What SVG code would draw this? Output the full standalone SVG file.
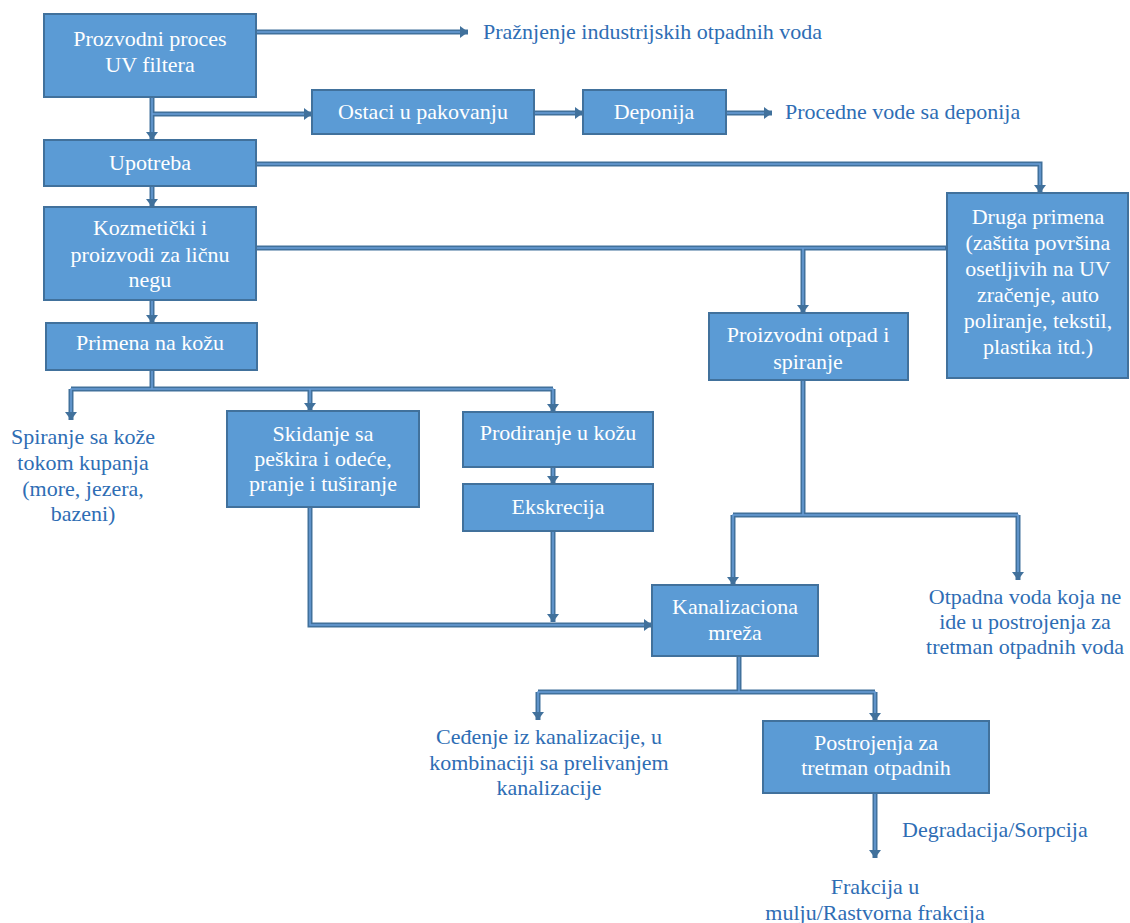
<svg xmlns="http://www.w3.org/2000/svg" width="1130" height="923" viewBox="0 0 1130 923">
  <style>
    .box { fill: #5b9bd5; stroke: #41719c; stroke-width: 2; }
    text { font-family: "Liberation Serif", "DejaVu Serif", serif; font-size: 22px; }
    .in { fill: #ffffff; text-anchor: middle; }
    .out { fill: #2e6db4; text-anchor: middle; }
    .start { text-anchor: start; }
    .c { fill: none; stroke: #41719c; stroke-width: 5; stroke-linejoin: miter; }
    .ci { fill: none; stroke: #6a9fd8; stroke-width: 1.5; stroke-linejoin: miter; }
  </style>
  <defs>
    <marker id="ah" viewBox="0 0 8 12" markerWidth="8" markerHeight="12" refX="8" refY="6" orient="auto" markerUnits="userSpaceOnUse">
      <path d="M0,0 L8,6 L0,12 z" fill="#41719c"/>
    </marker>
  </defs>
  <rect width="1130" height="923" fill="#ffffff"/>

  <!-- connectors: dark outer stroke with a light core -->
  <g id="connectors">
    <path class="c" marker-end="url(#ah)" d="M256,32 H468"/>
    <path class="c" marker-end="url(#ah)" d="M152,97 V140"/>
    <path class="c" marker-end="url(#ah)" d="M152,114 H312"/>
    <path class="c" marker-end="url(#ah)" d="M534,113 H583"/>
    <path class="c" marker-end="url(#ah)" d="M726,113 H772"/>
    <path class="c" marker-end="url(#ah)" d="M152,186 V207"/>
    <path class="c" marker-end="url(#ah)" d="M256,164 H1040 V193"/>
    <path class="c" d="M256,248 H947"/>
    <path class="c" marker-end="url(#ah)" d="M803,248 V313"/>
    <path class="c" marker-end="url(#ah)" d="M152,300 V323"/>
    <path class="c" d="M152,370 V389"/>
    <path class="c" d="M71,389 H553"/>
    <path class="c" marker-end="url(#ah)" d="M71,389 V420"/>
    <path class="c" marker-end="url(#ah)" d="M310,389 V411"/>
    <path class="c" marker-end="url(#ah)" d="M553,389 V412"/>
    <path class="c" marker-end="url(#ah)" d="M553,467 V484"/>
    <path class="c" marker-end="url(#ah)" d="M310,507 V625 H652"/>
    <path class="c" marker-end="url(#ah)" d="M553,531 V622"/>
    <path class="c" d="M803,380 V515"/>
    <path class="c" d="M733,515 H1018"/>
    <path class="c" marker-end="url(#ah)" d="M733,515 V585"/>
    <path class="c" marker-end="url(#ah)" d="M1018,515 V580"/>
    <path class="c" d="M739,656 V692"/>
    <path class="c" d="M538,692 H875"/>
    <path class="c" marker-end="url(#ah)" d="M538,692 V720"/>
    <path class="c" marker-end="url(#ah)" d="M875,692 V721"/>
    <path class="c" marker-end="url(#ah)" d="M875,793 V858"/>

    <path class="ci" d="M256,32 H460"/>
    <path class="ci" d="M152,97 V132"/>
    <path class="ci" d="M152,114 H304"/>
    <path class="ci" d="M534,113 H575"/>
    <path class="ci" d="M726,113 H764"/>
    <path class="ci" d="M152,186 V199"/>
    <path class="ci" d="M256,164 H1040 V185"/>
    <path class="ci" d="M256,248 H945"/>
    <path class="ci" d="M803,248 V305"/>
    <path class="ci" d="M152,300 V315"/>
    <path class="ci" d="M152,370 V389"/>
    <path class="ci" d="M71,412 V389 H553 V404"/>
    <path class="ci" d="M310,389 V403"/>
    <path class="ci" d="M553,467 V476"/>
    <path class="ci" d="M310,507 V625 H644"/>
    <path class="ci" d="M553,531 V614"/>
    <path class="ci" d="M803,380 V515"/>
    <path class="ci" d="M733,577 V515 H1018 V572"/>
    <path class="ci" d="M739,656 V692"/>
    <path class="ci" d="M538,712 V692 H875 V713"/>
    <path class="ci" d="M875,793 V850"/>
    <rect x="947" y="243" width="5" height="10" fill="#0b93e6"/>
  </g>

  <g id="n-proizvodni-proces">
    <rect class="box" x="44" y="14" width="212" height="83"/>
    <text class="in" x="150" y="46">Prozvodni proces</text>
    <text class="in" x="150" y="72">UV filtera</text>
  </g>
  <g id="n-praznjenje">
    <text class="out start" x="483" y="39">Pražnjenje industrijskih otpadnih voda</text>
  </g>
  <g id="n-ostaci">
    <rect class="box" x="312" y="90" width="222" height="44"/>
    <text class="in" x="423" y="119">Ostaci u pakovanju</text>
  </g>
  <g id="n-deponija">
    <rect class="box" x="583" y="90" width="143" height="44"/>
    <text class="in" x="654" y="119">Deponija</text>
  </g>
  <g id="n-procedne">
    <text class="out start" x="785" y="119">Procedne vode sa deponija</text>
  </g>
  <g id="n-upotreba">
    <rect class="box" x="44" y="140" width="212" height="46"/>
    <text class="in" x="150" y="170">Upotreba</text>
  </g>
  <g id="n-kozmeticki">
    <rect class="box" x="44" y="207" width="212" height="93"/>
    <text class="in" x="150" y="235">Kozmetički i</text>
    <text class="in" x="150" y="262">proizvodi za ličnu</text>
    <text class="in" x="150" y="287">negu</text>
  </g>
  <g id="n-druga-primena">
    <rect class="box" x="947" y="193" width="181" height="185"/>
    <text class="in" x="1038" y="224">Druga primena</text>
    <text class="in" x="1038" y="250">(zaštita površina</text>
    <text class="in" x="1038" y="276">osetljivih na UV</text>
    <text class="in" x="1038" y="302">zračenje, auto</text>
    <text class="in" x="1038" y="328">poliranje, tekstil,</text>
    <text class="in" x="1038" y="354">plastika itd.)</text>
  </g>
  <g id="n-primena">
    <rect class="box" x="46" y="323" width="211" height="47"/>
    <text class="in" x="150" y="350">Primena na kožu</text>
  </g>
  <g id="n-proizvodni-otpad">
    <rect class="box" x="709" y="313" width="199" height="67"/>
    <text class="in" x="808" y="342">Proizvodni otpad i</text>
    <text class="in" x="808" y="369">spiranje</text>
  </g>
  <g id="n-spiranje">
    <text class="out" x="83" y="444">Spiranje sa kože</text>
    <text class="out" x="83" y="470">tokom kupanja</text>
    <text class="out" x="83" y="496">(more, jezera,</text>
    <text class="out" x="83" y="521">bazeni)</text>
  </g>
  <g id="n-skidanje">
    <rect class="box" x="227" y="411" width="192" height="96"/>
    <text class="in" x="323" y="441">Skidanje sa</text>
    <text class="in" x="323" y="466">peškira i odeće,</text>
    <text class="in" x="323" y="491">pranje i tuširanje</text>
  </g>
  <g id="n-prodiranje">
    <rect class="box" x="463" y="412" width="190" height="55"/>
    <text class="in" x="558" y="440">Prodiranje u kožu</text>
  </g>
  <g id="n-ekskrecija">
    <rect class="box" x="463" y="484" width="190" height="47"/>
    <text class="in" x="558" y="514">Ekskrecija</text>
  </g>
  <g id="n-kanalizaciona">
    <rect class="box" x="652" y="585" width="166" height="71"/>
    <text class="in" x="735" y="614">Kanalizaciona</text>
    <text class="in" x="735" y="640">mreža</text>
  </g>
  <g id="n-otpadna-voda">
    <text class="out" x="1025" y="604">Otpadna voda koja ne</text>
    <text class="out" x="1025" y="629">ide u postrojenja za</text>
    <text class="out" x="1025" y="654">tretman otpadnih voda</text>
  </g>
  <g id="n-cedjenje">
    <text class="out" x="549" y="744">Ceđenje iz kanalizacije, u</text>
    <text class="out" x="549" y="770">kombinaciji sa prelivanjem</text>
    <text class="out" x="549" y="795">kanalizacije</text>
  </g>
  <g id="n-postrojenja">
    <rect class="box" x="763" y="721" width="226" height="72"/>
    <text class="in" x="876" y="750">Postrojenja za</text>
    <text class="in" x="876" y="775">tretman otpadnih</text>
  </g>
  <g id="n-degradacija">
    <text class="out start" x="902" y="837">Degradacija/Sorpcija</text>
  </g>
  <g id="n-frakcija">
    <text class="out" x="875" y="894">Frakcija u</text>
    <text class="out" x="875" y="920">mulju/Rastvorna frakcija</text>
  </g>
</svg>
